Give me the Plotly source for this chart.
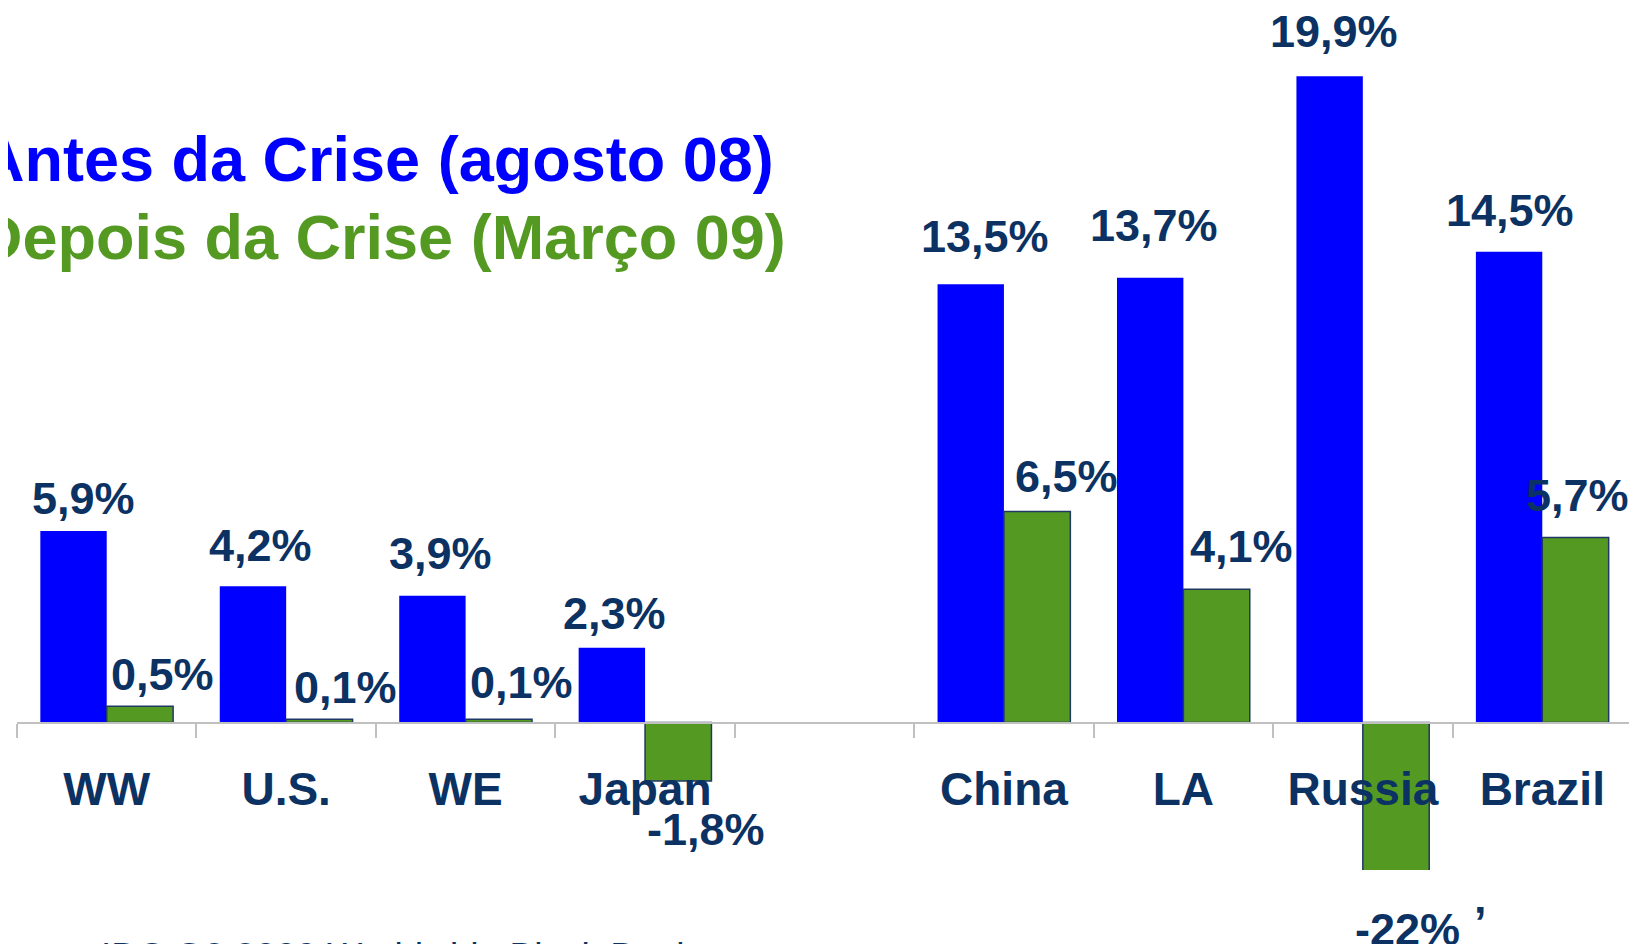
import plotly.graph_objects as go

# ---- data ----
categories = ["WW", "U.S.", "WE", "Japan", " ", "China", "LA", "Russia", "Brazil"]
before_crisis = [5.9, 4.2, 3.9, 2.3, None, 13.5, 13.7, 19.9, 14.5]
after_crisis = [0.5, 0.1, 0.1, -1.8, None, 6.5, 4.1, -22.0, 5.7]
series_names = ["Antes da Crise (agosto 08)", "Depois da Crise (Março 09)"]
source_text = "IDC Q2 2009 Worldwide Black Book"

# ---- styles ----
BLUE = "#0000FF"
GREEN = "#549A22"
NAVY = "#0B3262"
FONT = "Liberation Sans, Arial, sans-serif"

# per-label pixel nudges (style only)
blue_dx = [10, 8, 8, 3, 0, 14, 4, 4, 1]
blue_dy = [32, 41, 42, 34, 0, 48, 52, 45, 41]
green_dx = [23, 26, 23, 28, 0, 29, 25, 11, 2]
green_dy = [32, 32, 37, -49, 0, 35, 43, 0, 42]

W, H = 1637, 944
PAGE = 8                      # browser body margin offset
PLOT_L, PLOT_R = 17, 1632     # target plot area on the page (px)
PLOT_T, PLOT_B = PAGE, 870
ZERO_Y = 722.5
PX_PER_UNIT = 32.47

ML = PLOT_L - PAGE
MR = W - (PLOT_R - PAGE)
MT = PLOT_T - PAGE
MB = H - (PLOT_B - PAGE)
plot_w = W - ML - MR
plot_h = H - MT - MB
Y_MAX = (ZERO_Y - PLOT_T) / PX_PER_UNIT
Y_MIN = -(PLOT_B - ZERO_Y) / PX_PER_UNIT


def px_x(px):
    return (px - PLOT_L) / plot_w


def px_y(py):
    return (PLOT_B - py) / plot_h


def fmt(v):
    if float(v).is_integer():
        return f"{int(v)}%"
    return f"{v:.1f}".replace(".", ",") + "%"


fig = go.Figure()
fig.add_trace(go.Bar(x=categories, y=before_crisis, name=series_names[0],
                     marker=dict(color=BLUE, line=dict(width=0))))
fig.add_trace(go.Bar(x=categories, y=after_crisis, name=series_names[1],
                     marker=dict(color=GREEN, line=dict(color="#1F3864", width=1.5))))

label_font = dict(family=FONT, size=45, color=NAVY, weight="bold")
annotations = []
off = 0.185
for i, v in enumerate(before_crisis):
    if v is None:
        continue
    annotations.append(dict(x=i - off, y=v, xref="x", yref="y", text=fmt(v),
                            showarrow=False, yanchor="middle", xanchor="center",
                            xshift=blue_dx[i], yshift=blue_dy[i], font=label_font))
for i, v in enumerate(after_crisis):
    if v is None:
        continue
    if v < Y_MIN:
        # value beyond visible range: label sits below the plot area
        annotations.append(dict(x=i + off, y=px_y(929), xref="x", yref="paper",
                                text=fmt(v), showarrow=False, yanchor="middle",
                                xanchor="center", xshift=green_dx[i], font=label_font))
        continue
    annotations.append(dict(x=i + off, y=v, xref="x", yref="y", text=fmt(v),
                            showarrow=False, yanchor="middle", xanchor="center",
                            xshift=green_dx[i], yshift=green_dy[i], font=label_font))

# small stray mark next to the clipped label, as in the source slide
annotations.append(dict(x=px_x(1480), y=px_y(923), xref="paper", yref="paper",
                        text="’", showarrow=False, xanchor="center", yanchor="middle",
                        font=label_font))

# legend-like titles
annotations.append(dict(x=px_x(776), y=px_y(159), xref="paper", yref="paper",
                        text=series_names[0], showarrow=False, xanchor="right", yanchor="middle",
                        font=dict(family=FONT, size=63, color=BLUE, weight="bold")))
annotations.append(dict(x=px_x(788), y=px_y(237), xref="paper", yref="paper",
                        text=series_names[1], showarrow=False, xanchor="right", yanchor="middle",
                        font=dict(family=FONT, size=63, color=GREEN, weight="bold")))
# source line (partly cut at bottom)
annotations.append(dict(x=px_x(99), y=px_y(956), xref="paper", yref="paper",
                        text=source_text, showarrow=False, xanchor="left", yanchor="middle",
                        font=dict(family=FONT, size=37, color=NAVY)))

fig.update_layout(
    width=W, height=H,
    margin=dict(l=ML, r=MR, t=MT, b=MB, autoexpand=False),
    paper_bgcolor="white", plot_bgcolor="white",
    barmode="group", bargap=0.26, bargroupgap=0,
    showlegend=False,
    annotations=annotations,
    xaxis=dict(type="category", categoryorder="array", categoryarray=categories,
               anchor="free", position=(PLOT_B - ZERO_Y) / plot_h,
               tickson="boundaries", ticks="outside", ticklen=14, tickwidth=2,
               tickcolor="#C0C0C0", showline=True, linecolor="#C0C0C0", linewidth=2,
               showgrid=False, zeroline=False, automargin=False, layer="above traces",
               tickfont=dict(family=FONT, size=46, color=NAVY, weight="bold"),
               ticklabelstandoff=26),
    yaxis=dict(range=[Y_MIN, Y_MAX], showticklabels=False, ticks="", showline=False,
               showgrid=False, zeroline=False, automargin=False),
)

fig.write_html("out.html")
